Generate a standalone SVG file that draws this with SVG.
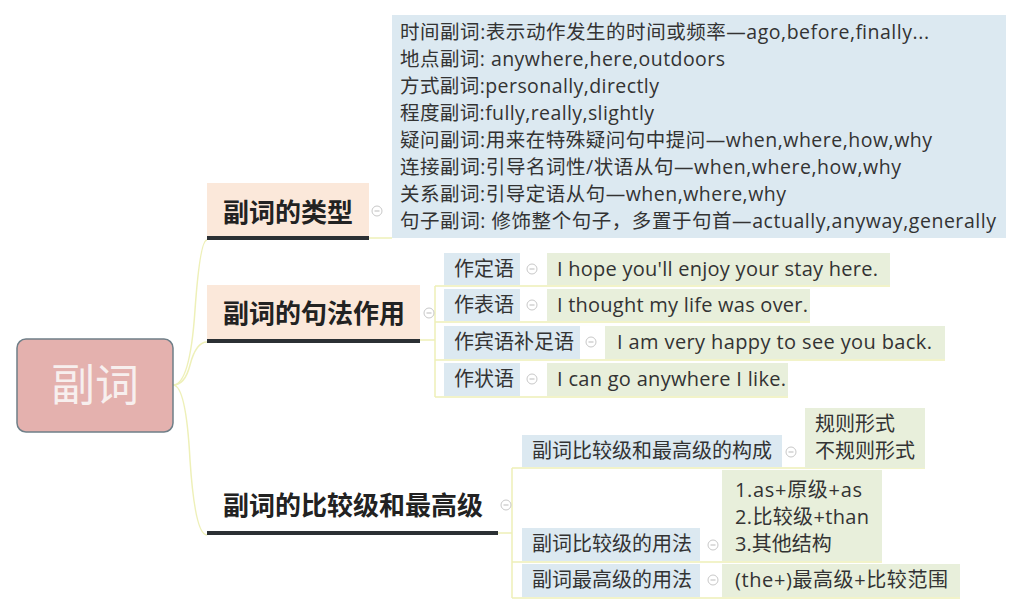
<svg xmlns="http://www.w3.org/2000/svg" width="1024" height="612" viewBox="0 0 1024 612">
<style>
.t{font-family:"Open Sans","Noto Sans CJK SC",sans-serif;fill:#333;}
.d{font-size:19.5px;}
.e{font-size:20px;}
.b{font-family:"Noto Sans CJK SC",sans-serif;font-size:26px;font-weight:bold;fill:#222;}
.blue{fill:#dce9f1;}
.green{fill:#e8efdb;}
.peach{fill:#fbe8da;}
.ln{fill:none;stroke:#eef0b8;stroke-width:1.5;}
.ul{stroke:#2b3034;stroke-width:4;}
.cc{fill:#fff;stroke:#c8c8c8;stroke-width:1;}
.cm{stroke:#bbb;stroke-width:1;}
</style>
<defs>
<g id="col"><circle class="cc" r="5"/><line class="cm" x1="-2.5" y1="0" x2="2.5" y2="0"/></g>
</defs>
<rect width="1024" height="612" fill="#fff"/>
<g id="connectors">
<path class="ln" d="M173,385 Q190,385 195,310 Q200,240 207,240"/>
<path class="ln" d="M173,385 Q185,385 190,365 Q196,342 207,342"/>
<path class="ln" d="M173,385 Q186,385 190,460 Q195,535 207,535"/>
<path class="ln" d="M369,238 L392,238"/>
<path class="ln" d="M420,340 L435,340 M435,286 L435,397 M435,286 L890,286 M435,322 L810,322 M435,360 L945,360 M435,397 L788,397"/>
<path class="ln" d="M498,533 L512,533 M512,468 L512,598 M512,468 L925,468 M512,562 L882,562 M512,598 L960,598"/>
</g>
<g id="root">
<rect x="17" y="339" width="156" height="93" rx="9" fill="#e4b1ae" stroke="#6f7f88" stroke-width="1.5"/>
<text x="95" y="401" text-anchor="middle" font-family="Noto Sans CJK SC,sans-serif" font-size="44" fill="#f7efee">副词</text>
</g>
<g id="types">
<rect class="peach" x="207" y="183" width="162" height="55"/>
<line class="ul" x1="207" y1="238" x2="369" y2="238"/>
<text class="b" x="223" y="222">副词的类型</text>
<use href="#col" x="377" y="211"/>
</g>
<g id="types-detail">
<rect class="blue" x="392" y="15" width="614" height="223"/>
<text class="t d" x="400" y="39" textLength="529" lengthAdjust="spacing">时间副词:表示动作发生的时间或频率—ago,before,finally...</text>
<text class="t d" x="400" y="66" textLength="325" lengthAdjust="spacing">地点副词: anywhere,here,outdoors</text>
<text class="t d" x="400" y="93" textLength="259" lengthAdjust="spacing">方式副词:personally,directly</text>
<text class="t d" x="400" y="120" textLength="254" lengthAdjust="spacing">程度副词:fully,really,slightly</text>
<text class="t d" x="400" y="147" textLength="532" lengthAdjust="spacing">疑问副词:用来在特殊疑问句中提问—when,where,how,why</text>
<text class="t d" x="400" y="174" textLength="501" lengthAdjust="spacing">连接副词:引导名词性/状语从句—when,where,how,why</text>
<text class="t d" x="400" y="201" textLength="386" lengthAdjust="spacing">关系副词:引导定语从句—when,where,why</text>
<text class="t d" x="400" y="228" textLength="596" lengthAdjust="spacing">句子副词: 修饰整个句子，多置于句首—actually,anyway,generally</text>
</g>
<g id="syntax">
<rect class="peach" x="207" y="285" width="213" height="55"/>
<line class="ul" x1="207" y1="341" x2="420" y2="341"/>
<text class="b" x="223" y="323">副词的句法作用</text>
<use href="#col" x="429" y="313"/>
</g>
<g id="s1">
<rect class="blue" x="444" y="253" width="76" height="32"/>
<text class="t e" x="454" y="276">作定语</text>
<use href="#col" x="532" y="269"/>
<rect class="green" x="547" y="253" width="343" height="32"/>
<text class="t e" x="557" y="276" textLength="321" lengthAdjust="spacing">I hope you'll enjoy your stay here.</text>
</g>
<g id="s2">
<rect class="blue" x="444" y="289" width="76" height="32"/>
<text class="t e" x="454" y="312">作表语</text>
<use href="#col" x="532" y="305"/>
<rect class="green" x="547" y="289" width="263" height="32"/>
<text class="t e" x="557" y="312" textLength="251" lengthAdjust="spacing">I thought my life was over.</text>
</g>
<g id="s3">
<rect class="blue" x="444" y="326" width="136" height="33"/>
<text class="t e" x="454" y="349">作宾语补足语</text>
<use href="#col" x="591" y="342"/>
<rect class="green" x="605" y="326" width="340" height="33"/>
<text class="t e" x="617" y="349" textLength="315" lengthAdjust="spacing">I am very happy to see you back.</text>
</g>
<g id="s4">
<rect class="blue" x="444" y="363" width="76" height="33"/>
<text class="t e" x="454" y="386">作状语</text>
<use href="#col" x="532" y="379"/>
<rect class="green" x="547" y="363" width="241" height="33"/>
<text class="t e" x="557" y="386" textLength="229" lengthAdjust="spacing">I can go anywhere I like.</text>
</g>
<g id="compare">
<line class="ul" x1="207" y1="533" x2="498" y2="533"/>
<text class="b" x="223" y="515">副词的比较级和最高级</text>
<use href="#col" x="506" y="505"/>
</g>
<g id="c1">
<rect class="blue" x="522" y="435" width="260" height="32"/>
<text class="t e" x="532" y="458">副词比较级和最高级的构成</text>
<use href="#col" x="791" y="452"/>
<rect class="green" x="805" y="408" width="120" height="60"/>
<text class="t e" x="815" y="431">规则形式</text>
<text class="t e" x="815" y="458">不规则形式</text>
</g>
<g id="c2">
<rect class="blue" x="522" y="528" width="178" height="33"/>
<text class="t e" x="532" y="551">副词比较级的用法</text>
<use href="#col" x="713" y="545"/>
<rect class="green" x="722" y="470" width="160" height="91"/>
<text class="t e" x="735" y="497" textLength="127" lengthAdjust="spacing">1.as+原级+as</text>
<text class="t e" x="735" y="524" textLength="134" lengthAdjust="spacing">2.比较级+than</text>
<text class="t e" x="735" y="551">3.其他结构</text>
</g>
<g id="c3">
<rect class="blue" x="522" y="564" width="178" height="33"/>
<text class="t e" x="532" y="587">副词最高级的用法</text>
<use href="#col" x="713" y="580"/>
<rect class="green" x="722" y="564" width="238" height="33"/>
<text class="t e" x="735" y="587" textLength="213" lengthAdjust="spacing">(the+)最高级+比较范围</text>
</g>
</svg>
